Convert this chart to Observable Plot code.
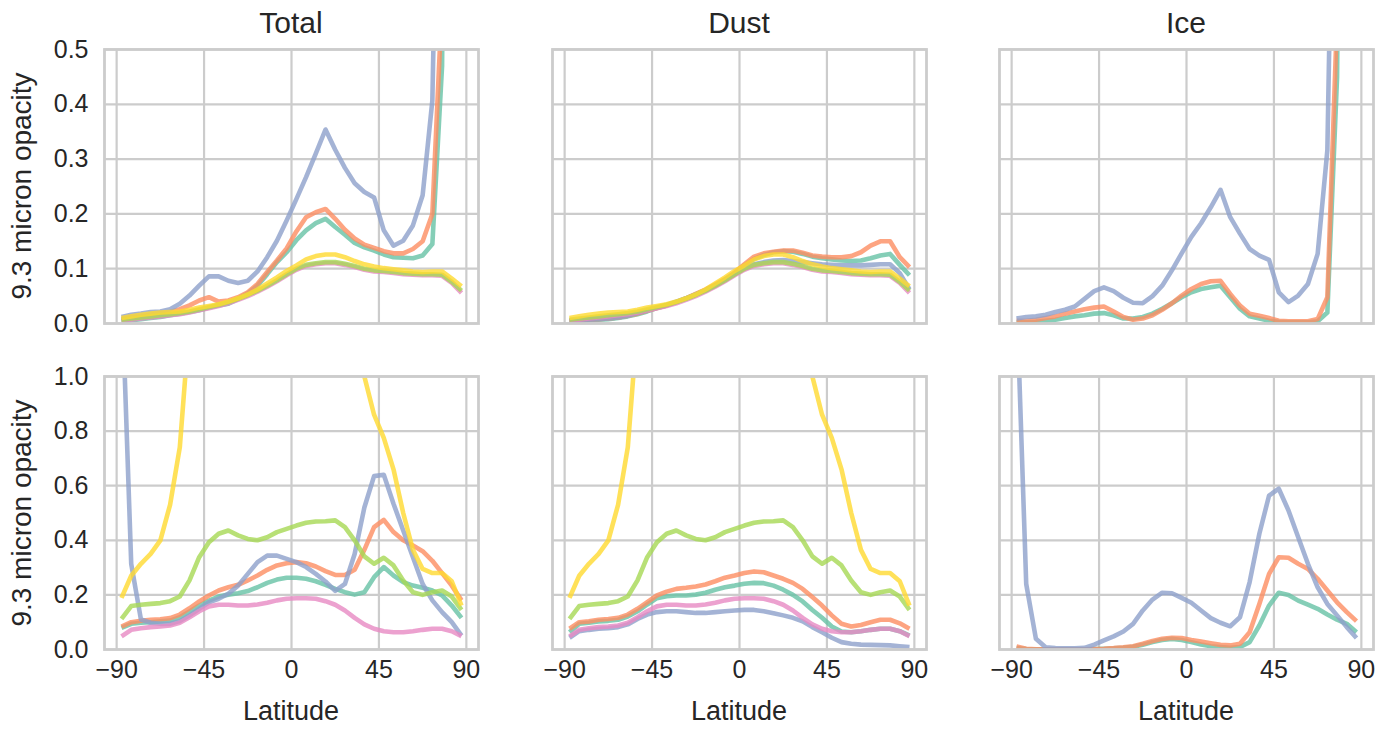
<!DOCTYPE html>
<html>
<head>
<meta charset="utf-8">
<script src="https://cdn.jsdelivr.net/npm/d3@7"></script>
<script src="https://cdn.jsdelivr.net/npm/@observablehq/plot@0.6"></script>
<style>
  html, body { margin: 0; padding: 0; background: #ffffff; }
  #chart { position: relative; width: 1391px; height: 729px; overflow: hidden;
           font-family: "Liberation Sans", Arial, sans-serif; color: #262626; }
  .lbl { position: absolute; white-space: nowrap; line-height: 1.15; }
  #chart svg { position: absolute; }
</style>
</head>
<body>
<div id="chart"></div>
<script>
// ---------------- data ----------------
const latitudes = [-87.5,-82.5,-77.5,-72.5,-67.5,-62.5,-57.5,-52.5,-47.5,-42.5,-37.5,-32.5,
  -27.5,-22.5,-17.5,-12.5,-7.5,-2.5,2.5,7.5,12.5,17.5,22.5,27.5,32.5,37.5,42.5,47.5,
  52.5,57.5,62.5,67.5,72.5,77.5,82.5,87.5];

const panelTitles = ["Total", "Dust", "Ice"];
const xTickValues = [-90, -45, 0, 45, 90];
const topYTicks = [0, 0.1, 0.2, 0.3, 0.4, 0.5];
const bottomYTicks = [0, 0.2, 0.4, 0.6, 0.8, 1.0];
const yLabel = "9.3 micron opacity";
const xLabel = "Latitude";

const seriesNames = ["teal", "orange", "blue", "pink", "lime", "yellow"];
const seriesColors = ["#66c2a5", "#fc8d62", "#8da0cb", "#e78ac3", "#a6d854", "#ffd92f"];

// top row
const topTotalTeal   = [0.004,0.006,0.008,0.010,0.012,0.015,0.018,0.021,0.024,0.029,0.033,0.036,0.045,0.055,0.069,0.090,0.112,0.130,0.152,0.170,0.183,0.191,0.176,0.162,0.147,0.139,0.133,0.126,0.121,0.120,0.119,0.124,0.145,0.470,2.5,3.0];
const topTotalOrange = [0.008,0.011,0.013,0.016,0.019,0.021,0.026,0.033,0.042,0.048,0.040,0.042,0.048,0.057,0.072,0.094,0.115,0.137,0.168,0.194,0.203,0.209,0.191,0.171,0.155,0.144,0.138,0.132,0.128,0.128,0.136,0.150,0.200,0.590,2.6,3.1];
const topTotalBlue   = [0.012,0.016,0.018,0.021,0.022,0.026,0.036,0.051,0.069,0.086,0.086,0.078,0.074,0.078,0.095,0.121,0.151,0.188,0.227,0.267,0.310,0.354,0.317,0.284,0.256,0.240,0.230,0.170,0.142,0.151,0.179,0.234,0.407,1.3,2.8,3.3];

const topDustTeal    = [0.004,0.005,0.006,0.007,0.008,0.010,0.013,0.017,0.022,0.028,0.033,0.039,0.046,0.053,0.061,0.070,0.080,0.092,0.106,0.118,0.125,0.130,0.132,0.131,0.127,0.122,0.119,0.117,0.115,0.114,0.115,0.119,0.124,0.127,0.107,0.088];
const topDustOrange  = [0.005,0.006,0.007,0.008,0.009,0.011,0.014,0.018,0.023,0.028,0.033,0.039,0.046,0.054,0.062,0.071,0.081,0.093,0.108,0.122,0.128,0.131,0.133,0.133,0.129,0.124,0.122,0.121,0.121,0.123,0.130,0.142,0.150,0.150,0.121,0.103];
const topDustBlue    = [0.005,0.006,0.007,0.008,0.009,0.011,0.014,0.019,0.024,0.029,0.034,0.040,0.046,0.053,0.060,0.069,0.079,0.090,0.100,0.108,0.112,0.115,0.116,0.114,0.112,0.110,0.108,0.107,0.106,0.106,0.106,0.107,0.108,0.108,0.092,0.062];
const topDustPink    = [0.005,0.007,0.009,0.011,0.013,0.015,0.017,0.020,0.024,0.028,0.032,0.037,0.043,0.050,0.058,0.067,0.077,0.088,0.098,0.105,0.108,0.110,0.110,0.107,0.103,0.098,0.095,0.094,0.092,0.090,0.089,0.088,0.088,0.087,0.074,0.056];
const topDustLime    = [0.007,0.009,0.011,0.013,0.015,0.017,0.019,0.022,0.026,0.030,0.034,0.039,0.045,0.052,0.060,0.069,0.079,0.090,0.100,0.107,0.110,0.112,0.112,0.109,0.105,0.100,0.097,0.096,0.094,0.092,0.091,0.090,0.090,0.089,0.076,0.060];
const topDustYellow  = [0.010,0.013,0.016,0.018,0.020,0.021,0.022,0.025,0.029,0.032,0.035,0.040,0.046,0.053,0.062,0.073,0.084,0.096,0.106,0.117,0.123,0.126,0.126,0.121,0.114,0.108,0.104,0.101,0.099,0.097,0.095,0.094,0.095,0.095,0.082,0.068];

const topIceTeal     = [0.002,0.002,0.003,0.005,0.007,0.010,0.013,0.015,0.018,0.019,0.015,0.009,0.009,0.012,0.018,0.027,0.037,0.048,0.057,0.063,0.066,0.069,0.048,0.027,0.013,0.009,0.005,0.003,0.002,0.002,0.002,0.004,0.020,0.450,2.4,2.9];
const topIceOrange   = [0.005,0.005,0.007,0.010,0.013,0.018,0.022,0.026,0.029,0.031,0.022,0.012,0.007,0.009,0.015,0.025,0.037,0.051,0.063,0.072,0.077,0.078,0.054,0.033,0.018,0.014,0.010,0.005,0.004,0.004,0.004,0.008,0.048,0.560,2.5,3.0];
const topIceBlue     = [0.009,0.012,0.013,0.016,0.021,0.025,0.031,0.045,0.059,0.066,0.059,0.047,0.038,0.037,0.050,0.069,0.097,0.128,0.158,0.183,0.212,0.244,0.194,0.164,0.136,0.124,0.116,0.057,0.039,0.051,0.072,0.127,0.316,1.3,2.8,3.3];

// bottom row
const botTotalTeal   = [0.079,0.094,0.098,0.100,0.103,0.106,0.118,0.139,0.161,0.179,0.194,0.201,0.206,0.214,0.228,0.244,0.256,0.263,0.263,0.259,0.250,0.237,0.222,0.210,0.201,0.210,0.265,0.302,0.271,0.247,0.234,0.226,0.216,0.198,0.161,0.116];
const botTotalOrange = [0.084,0.100,0.105,0.109,0.111,0.115,0.128,0.151,0.176,0.198,0.216,0.228,0.237,0.253,0.271,0.292,0.308,0.316,0.320,0.316,0.304,0.287,0.273,0.273,0.292,0.365,0.448,0.475,0.430,0.400,0.381,0.360,0.325,0.280,0.234,0.180];
const botTotalBlue   = [1.35,0.314,0.110,0.098,0.094,0.094,0.104,0.125,0.149,0.173,0.186,0.204,0.234,0.277,0.320,0.344,0.344,0.332,0.320,0.302,0.277,0.249,0.215,0.240,0.350,0.520,0.635,0.640,0.534,0.436,0.338,0.240,0.180,0.137,0.100,0.051];

const botDustTeal    = [0.063,0.094,0.098,0.103,0.105,0.109,0.121,0.140,0.165,0.188,0.195,0.198,0.198,0.201,0.208,0.219,0.228,0.234,0.241,0.244,0.243,0.234,0.219,0.200,0.176,0.145,0.116,0.084,0.066,0.063,0.067,0.072,0.076,0.076,0.067,0.051];
const botDustOrange  = [0.076,0.100,0.103,0.109,0.112,0.116,0.128,0.149,0.173,0.198,0.212,0.222,0.226,0.231,0.238,0.250,0.263,0.271,0.280,0.286,0.283,0.271,0.259,0.244,0.222,0.192,0.161,0.125,0.094,0.084,0.090,0.100,0.109,0.109,0.096,0.076];
const botDustBlue    = [0.043,0.067,0.072,0.076,0.078,0.082,0.092,0.112,0.128,0.137,0.140,0.140,0.137,0.134,0.134,0.137,0.140,0.143,0.145,0.145,0.140,0.133,0.125,0.116,0.103,0.082,0.063,0.043,0.027,0.021,0.018,0.017,0.016,0.015,0.012,0.009];
const botDustPink    = [0.048,0.072,0.078,0.082,0.084,0.088,0.098,0.118,0.140,0.158,0.164,0.164,0.161,0.161,0.165,0.171,0.180,0.186,0.188,0.188,0.186,0.177,0.164,0.143,0.116,0.092,0.076,0.067,0.063,0.063,0.067,0.072,0.076,0.076,0.067,0.049];
const botDustLime    = [0.112,0.159,0.164,0.167,0.170,0.177,0.194,0.253,0.338,0.393,0.424,0.436,0.418,0.405,0.400,0.411,0.430,0.442,0.454,0.464,0.469,0.470,0.473,0.448,0.400,0.341,0.314,0.336,0.308,0.253,0.210,0.200,0.210,0.216,0.194,0.145];
const botDustYellow  = [0.189,0.270,0.314,0.350,0.400,0.530,0.740,1.20,1.8,2.3,2.7,3.0,3.2,3.3,3.3,3.2,3.1,2.9,2.7,2.5,2.2,1.9,1.6,1.3,1.1,1.0,0.860,0.775,0.660,0.500,0.365,0.295,0.280,0.280,0.250,0.161];

const botIceTeal     = [0.005,0.002,0.001,0.001,0.001,0.001,0.001,0.001,0.002,0.003,0.004,0.006,0.010,0.017,0.027,0.035,0.039,0.035,0.027,0.018,0.012,0.009,0.006,0.009,0.027,0.088,0.161,0.208,0.200,0.179,0.164,0.149,0.128,0.109,0.094,0.063];
const botIceOrange   = [0.011,0.003,0.001,0.001,0.001,0.001,0.001,0.001,0.002,0.003,0.005,0.008,0.012,0.021,0.031,0.039,0.043,0.042,0.035,0.029,0.023,0.017,0.015,0.021,0.063,0.167,0.277,0.338,0.336,0.314,0.295,0.259,0.216,0.173,0.137,0.104];
const botIceBlue     = [1.31,0.240,0.039,0.008,0.005,0.004,0.004,0.006,0.018,0.033,0.048,0.066,0.094,0.143,0.183,0.208,0.206,0.189,0.171,0.143,0.115,0.098,0.085,0.118,0.247,0.424,0.564,0.589,0.509,0.411,0.314,0.228,0.167,0.125,0.082,0.042];

// which arrays go in each panel (series order = draw order)
const panels = [
  [ // top row
    {teal: topTotalTeal, orange: topTotalOrange, blue: topTotalBlue, pink: topDustPink, lime: topDustLime, yellow: topDustYellow},
    {teal: topDustTeal, orange: topDustOrange, blue: topDustBlue, pink: topDustPink, lime: topDustLime, yellow: topDustYellow},
    {teal: topIceTeal, orange: topIceOrange, blue: topIceBlue}
  ],
  [ // bottom row
    {teal: botTotalTeal, orange: botTotalOrange, blue: botTotalBlue, pink: botDustPink, lime: botDustLime, yellow: botDustYellow},
    {teal: botDustTeal, orange: botDustOrange, blue: botDustBlue, pink: botDustPink, lime: botDustLime, yellow: botDustYellow},
    {teal: botIceTeal, orange: botIceOrange, blue: botIceBlue}
  ]
];

// ---------------- layout ----------------
const chart = document.getElementById("chart");
const frameW = 374;
const colLeft = [104, 552, 999];
const rowTop = [49, 376];
const rowH = [274, 273];
const M = {l: 100, r: 12, t: 12, b: 60};
const fontStack = '"Liberation Sans", Arial, sans-serif';
const grid = "#cccccc";
const fmtLat = d => d < 0 ? "\u2212" + Math.abs(d) : String(d);

for (let r = 0; r < 2; r++) {
  for (let c = 0; c < 3; c++) {
    const set = panels[r][c];
    const yTicks = r === 0 ? topYTicks : bottomYTicks;
    const marks = [
      Plot.gridX(xTickValues, {stroke: grid, strokeOpacity: 1, strokeWidth: 2.2}),
      Plot.gridY(yTicks, {stroke: grid, strokeOpacity: 1, strokeWidth: 2.2})
    ];
    seriesNames.forEach((name, i) => {
      const vals = set[name];
      if (!vals) return;
      const rows = latitudes.map((lat, k) => ({lat, v: vals[k], series: name}));
      marks.push(Plot.line(rows, {
        x: "lat", y: "v", stroke: seriesColors[i], strokeWidth: 4.6, strokeOpacity: 0.8,
        strokeLinejoin: "round", strokeLinecap: "butt", clip: true
      }));
    });
    marks.push(Plot.frame({stroke: grid, strokeWidth: 2.8}));
    if (c === 0) {
      marks.push(Plot.axisY(yTicks, {tickSize: 0, tickPadding: 16, tickFormat: d3.format(".1f"), label: null}));
    }
    if (r === 1) {
      marks.push(Plot.axisX(xTickValues, {tickSize: 0, tickPadding: 11, tickFormat: fmtLat, label: null}));
    }
    const svg = Plot.plot({
      width: frameW + M.l + M.r,
      height: rowH[r] + M.t + M.b,
      marginLeft: M.l, marginRight: M.r, marginTop: M.t, marginBottom: M.b,
      x: {domain: [-96.25, 96.25], axis: null},
      y: {domain: r === 0 ? [0, 0.5] : [0, 1], axis: null},
      style: {fontFamily: fontStack, fontSize: "25px", color: "#262626", background: "transparent", overflow: "visible"},
      marks
    });
    svg.style.left = (colLeft[c] - M.l) + "px";
    svg.style.top = (rowTop[r] - M.t) + "px";
    chart.appendChild(svg);
  }
}

// titles, axis labels (real text)
function addLabel(text, x, y, size, rotate) {
  const d = document.createElement("div");
  d.className = "lbl";
  d.textContent = text;
  d.style.left = x + "px";
  d.style.top = y + "px";
  d.style.fontSize = size + "px";
  d.style.transform = "translate(-50%, -50%)" + (rotate ? " rotate(-90deg)" : "");
  chart.appendChild(d);
}
panelTitles.forEach((t, c) => addLabel(t, colLeft[c] + frameW / 2, 23, 30, false));
[0, 1, 2].forEach(c => addLabel(xLabel, colLeft[c] + frameW / 2, 712, 27, false));
[0, 1].forEach(r => addLabel(yLabel, 22, rowTop[r] + rowH[r] / 2, 28, true));
</script>
</body>
</html>
